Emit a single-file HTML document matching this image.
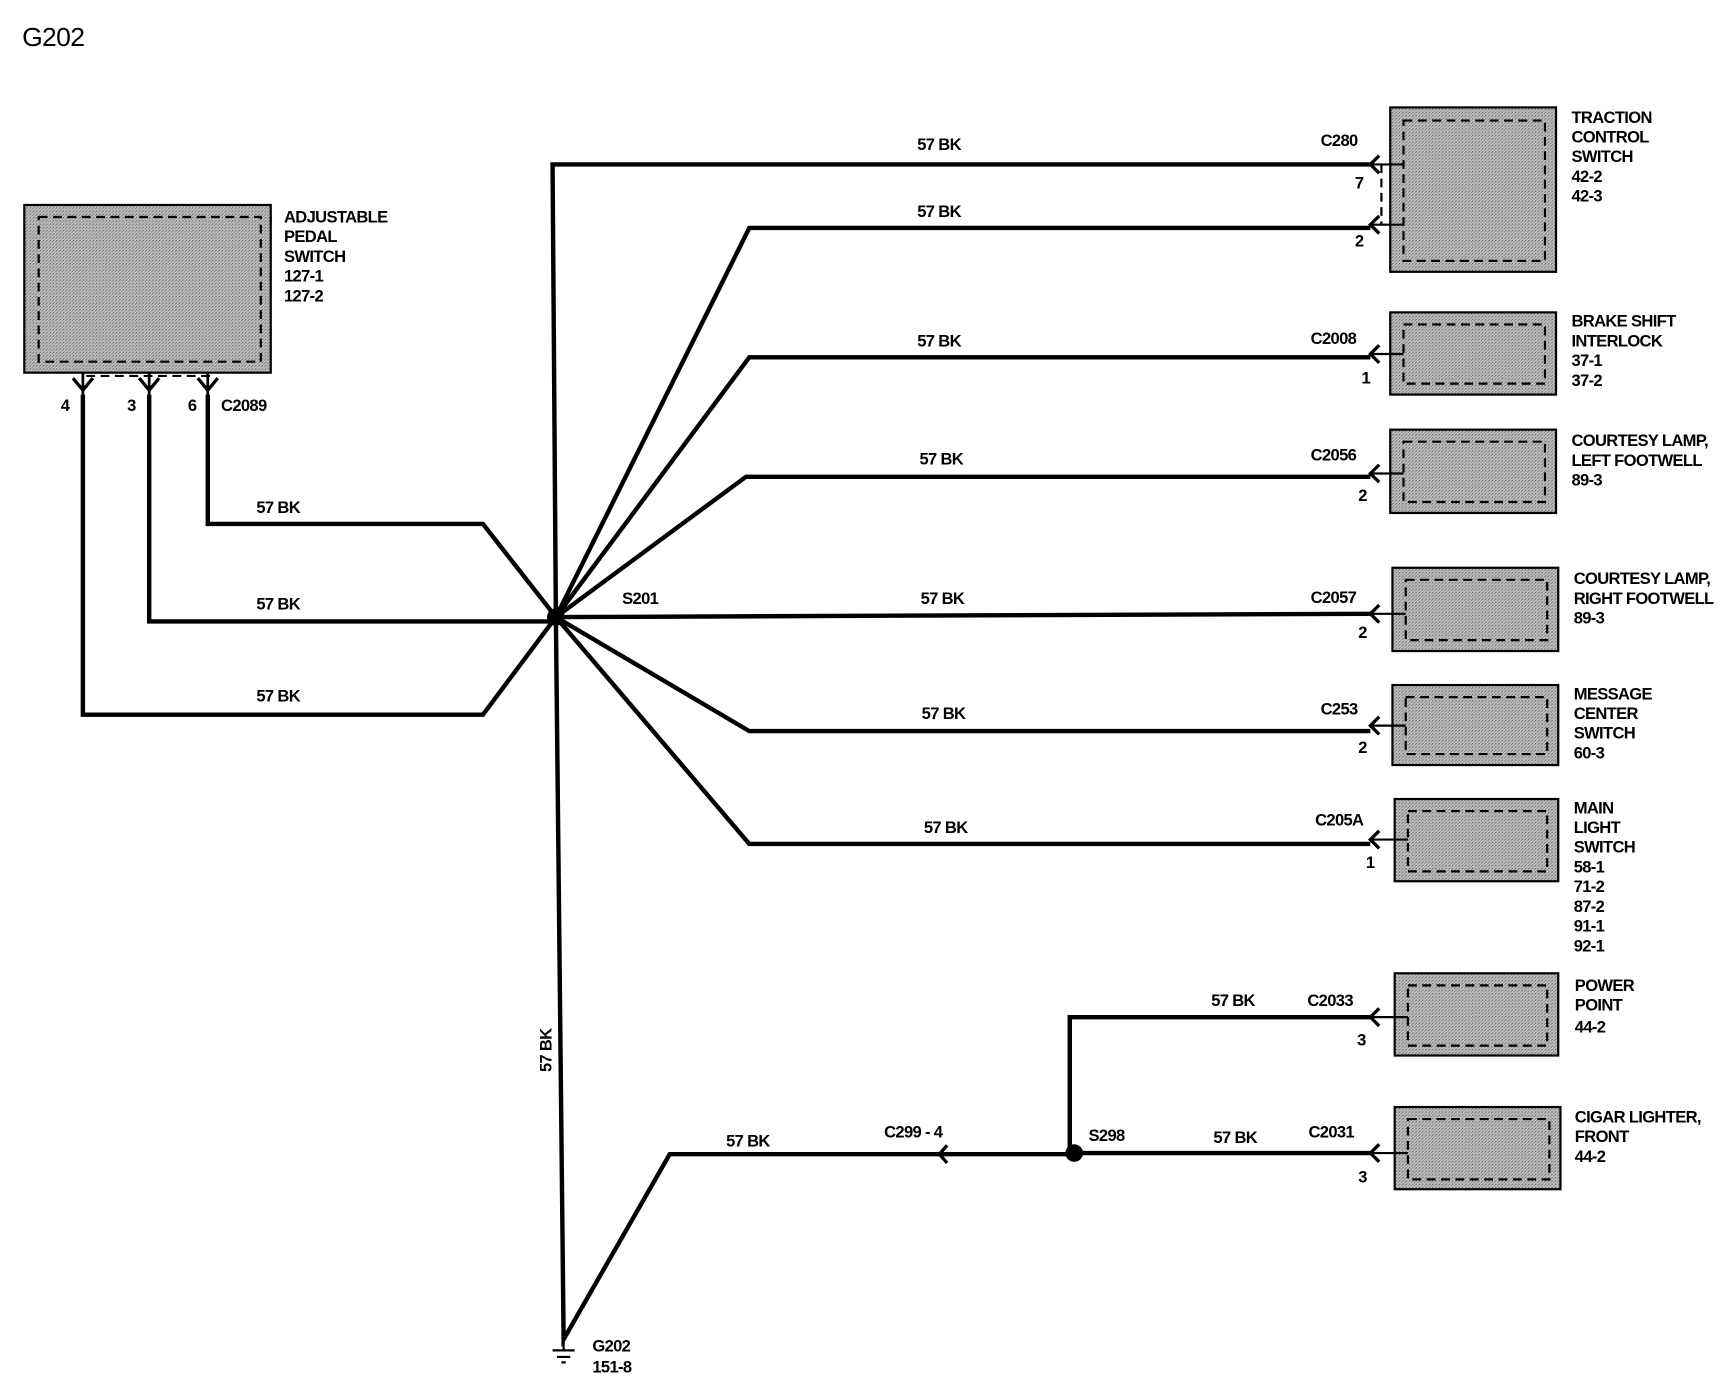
<!DOCTYPE html>
<html><head><meta charset="utf-8"><style>
html,body{margin:0;padding:0;background:#fff;}
svg{display:block;}
text{font-family:"Liberation Sans",sans-serif;font-size:15px;fill:#000;font-weight:bold;letter-spacing:-0.6px;}
.l{font-size:14.5px;}
</style></head><body>
<svg width="1724" height="1392" viewBox="0 0 1560 1270" preserveAspectRatio="none" xmlns="http://www.w3.org/2000/svg">
<defs>
<pattern id="dots" width="3" height="3" patternUnits="userSpaceOnUse">
<rect width="3" height="3" fill="#c4c4c4"/><rect width="1" height="1" fill="#555"/><rect x="2" y="1" width="1" height="1" fill="#777"/><rect x="1" y="2" width="1" height="1" fill="#999"/>
</pattern>
</defs>
<text x="20" y="42" style="font-size:24px;font-weight:normal">G202</text>

<g fill="url(#dots)" stroke="#000" stroke-width="2">
<rect x="22" y="187" width="223" height="153"/>
<rect x="1258" y="98" width="150" height="150"/>
<rect x="1258" y="285" width="150" height="75"/>
<rect x="1258" y="392" width="150" height="76"/>
<rect x="1260" y="518" width="150" height="76"/>
<rect x="1260" y="625" width="150" height="73"/>
<rect x="1262" y="729" width="148" height="75"/>
<rect x="1262" y="888" width="148" height="75"/>
<rect x="1262" y="1010" width="150" height="75"/>
</g>
<g fill="none" stroke="#000" stroke-width="2" stroke-dasharray="8,5">
<rect x="35" y="198" width="201" height="132"/>
<rect x="1270" y="110" width="128" height="128"/>
<rect x="1270" y="296" width="128" height="54"/>
<rect x="1270" y="403" width="128" height="55"/>
<rect x="1272" y="529" width="128" height="55"/>
<rect x="1272" y="636" width="128" height="52"/>
<rect x="1274" y="740" width="126" height="55"/>
<rect x="1274" y="899" width="126" height="55"/>
<rect x="1274" y="1021" width="128" height="55"/>
<path d="M78 343 H190 M1250 150 V205"/>
</g>

<g fill="none" stroke="#000" stroke-width="4" stroke-linejoin="miter">
<path d="M188 360 V478 H437 L503 563"/>
<path d="M135 360 V567 H503"/>
<path d="M75 360 V652 H437 L503 563"/>
<path d="M503 563 L500 150 H1240"/>
<path d="M503 563 L678 208 H1240"/>
<path d="M503 563 L678 326 H1240"/>
<path d="M503 563 L675 435 H1240"/>
<path d="M503 563 L1240 560"/>
<path d="M503 563 L678 667 H1240"/>
<path d="M503 563 L678 770 H1240"/>
<path d="M503 563 L510 1222 L606 1053 H972"/>
<path d="M968 1052 V928 H1240"/>
<path d="M972 1052 H1240"/>
</g>
<g fill="none" stroke="#000" stroke-width="2">
<path d="M75 340 V360 M135 340 V360 M188 340 V360" stroke-width="2.5"/>
<path d="M66 345 L75 356 L84 345 M126 345 L135 356 L144 345 M179 345 L188 356 L197 345" stroke-width="3"/>
<path d="M1240 150 H1270 M1240 205 H1270 M1240 323 H1270 M1240 432 H1270 M1240 560 H1272 M1240 662 H1272 M1240 766 H1274 M1240 928 H1274 M1240 1052 H1274"/>
<g stroke-width="3">
<path d="M1248 142 L1240 150 L1248 158"/>
<path d="M1248 197 L1240 205 L1248 213"/>
<path d="M1248 315 L1240 323 L1248 331"/>
<path d="M1248 424 L1240 432 L1248 440"/>
<path d="M1248 552 L1240 560 L1248 568"/>
<path d="M1248 654 L1240 662 L1248 670"/>
<path d="M1248 758 L1240 766 L1248 774"/>
<path d="M1248 920 L1240 928 L1248 936"/>
<path d="M1248 1044 L1240 1052 L1248 1060"/>
<path d="M857 1045 L850 1053 L857 1061"/>
</g>
<path d="M510 1222 V1232 M500 1232 H520 M504 1238 H516 M508 1243 H512"/>
</g>
<circle cx="503" cy="563" r="8" fill="#000"/>
<circle cx="972" cy="1052" r="8" fill="#000"/>

<g class="l">
<text x="257" y="203">ADJUSTABLE</text><text x="257" y="221">PEDAL</text><text x="257" y="239">SWITCH</text><text x="257" y="257">127-1</text><text x="257" y="275">127-2</text>
<text x="55" y="375">4</text><text x="115" y="375">3</text><text x="170" y="375">6</text><text x="200" y="375">C2089</text>
<text x="232" y="468">57  BK</text><text x="232" y="556">57  BK</text><text x="232" y="640">57  BK</text>
<text x="830" y="137">57  BK</text><text x="1195" y="133">C280</text><text x="1226" y="172">7</text>
<text x="830" y="198">57  BK</text><text x="1226" y="225">2</text>
<text x="1422" y="112">TRACTION</text><text x="1422" y="130">CONTROL</text><text x="1422" y="148">SWITCH</text><text x="1422" y="166">42-2</text><text x="1422" y="184">42-3</text>
<text x="830" y="316">57  BK</text><text x="1186" y="314">C2008</text><text x="1232" y="350">1</text>
<text x="1422" y="298">BRAKE SHIFT</text><text x="1422" y="316">INTERLOCK</text><text x="1422" y="334">37-1</text><text x="1422" y="352">37-2</text>
<text x="832" y="424">57  BK</text><text x="1186" y="420">C2056</text><text x="1229" y="457">2</text>
<text x="1422" y="407">COURTESY LAMP,</text><text x="1422" y="425">LEFT FOOTWELL</text><text x="1422" y="443">89-3</text>
<text x="563" y="551">S201</text><text x="833" y="551">57  BK</text><text x="1186" y="550">C2057</text><text x="1229" y="582">2</text>
<text x="1424" y="533">COURTESY LAMP,</text><text x="1424" y="551">RIGHT FOOTWELL</text><text x="1424" y="569">89-3</text>
<text x="834" y="656">57  BK</text><text x="1195" y="652">C253</text><text x="1229" y="687">2</text>
<text x="1424" y="638">MESSAGE</text><text x="1424" y="656">CENTER</text><text x="1424" y="674">SWITCH</text><text x="1424" y="692">60-3</text>
<text x="836" y="760">57  BK</text><text x="1190" y="753">C205A</text><text x="1236" y="792">1</text>
<text x="1424" y="742">MAIN</text><text x="1424" y="760">LIGHT</text><text x="1424" y="778">SWITCH</text><text x="1424" y="796">58-1</text><text x="1424" y="814">71-2</text><text x="1424" y="832">87-2</text><text x="1424" y="850">91-1</text><text x="1424" y="868">92-1</text>
<text x="1096" y="918">57  BK</text><text x="1183" y="918">C2033</text><text x="1228" y="954">3</text>
<text x="1425" y="904">POWER</text><text x="1425" y="922">POINT</text><text x="1425" y="942">44-2</text>
<text x="985" y="1041">S298</text><text x="1098" y="1043">57  BK</text><text x="1184" y="1038">C2031</text><text x="1229" y="1079">3</text>
<text x="1425" y="1024">CIGAR LIGHTER,</text><text x="1425" y="1042">FRONT</text><text x="1425" y="1060">44-2</text>
<text x="657" y="1046">57  BK</text><text x="800" y="1038">C299  -  4</text>
<text transform="translate(499,978) rotate(-90)">57  BK</text>
<text x="536" y="1233">G202</text><text x="536" y="1252">151-8</text>
</g>
</svg>
</body></html>
